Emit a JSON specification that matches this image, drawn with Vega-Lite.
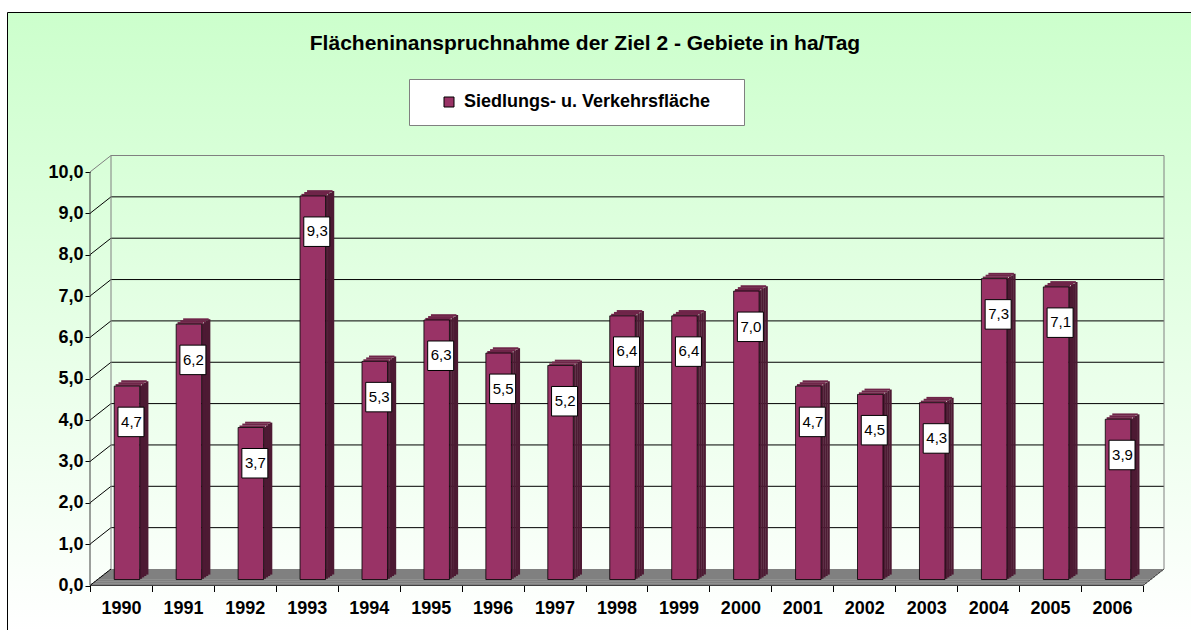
{
  "$schema": "https://vega.github.io/schema/vega-lite/v6.json",
  "width": 1185,
  "height": 619,
  "autosize": {"type": "none"},
  "padding": {"left": 7, "top": 12, "right": -1, "bottom": -1},
  "background": "#ffffff",
  "view": {
    "fill": {"gradient": "linear", "x1": 0, "y1": 0, "x2": 0, "y2": 1,
      "stops": [{"offset": 0, "color": "#CCFFCC"}, {"offset": 1, "color": "#FFFFFF"}]},
    "stroke": "#000000",
    "strokeWidth": 1
  },
  "config": {
    "locale": {"number": {"decimal": ",", "thousands": ".", "grouping": [3], "currency": ["", " €"]}},
    "font": "Liberation Sans"
  },
  "title": {
    "text": "Flächeninanspruchnahme der Ziel 2 - Gebiete in ha/Tag",
    "font": "Liberation Sans",
    "fontSize": 21,
    "fontWeight": "bold",
    "color": "#000000",
    "anchor": "middle",
    "frame": "group",
    "baseline": "alphabetic",
    "offset": -59,
    "dx": -14.5
  },
  "datasets": {
    "bars": [
      {"Jahr": "1990", "Wert": 4.7},
      {"Jahr": "1991", "Wert": 6.2},
      {"Jahr": "1992", "Wert": 3.7},
      {"Jahr": "1993", "Wert": 9.3},
      {"Jahr": "1994", "Wert": 5.3},
      {"Jahr": "1995", "Wert": 6.3},
      {"Jahr": "1996", "Wert": 5.5},
      {"Jahr": "1997", "Wert": 5.2},
      {"Jahr": "1998", "Wert": 6.4},
      {"Jahr": "1999", "Wert": 6.4},
      {"Jahr": "2000", "Wert": 7.0},
      {"Jahr": "2001", "Wert": 4.7},
      {"Jahr": "2002", "Wert": 4.5},
      {"Jahr": "2003", "Wert": 4.3},
      {"Jahr": "2004", "Wert": 7.3},
      {"Jahr": "2005", "Wert": 7.1},
      {"Jahr": "2006", "Wert": 3.9}
    ],
    "ticks": [
      {"t": 0}, {"t": 1}, {"t": 2}, {"t": 3}, {"t": 4}, {"t": 5},
      {"t": 6}, {"t": 7}, {"t": 8}, {"t": 9}, {"t": 10}
    ],
    "one": [{"k": 1}]
  },
  "layer": [
    {
      "data": {"name": "bars"},
      "mark": {"type": "bar", "width": 25.5, "xOffset": 6, "yOffset": -5, "y2Offset": -6, "stroke": "#000000", "strokeWidth": 0.8, "opacity": 0},
      "encoding": {
        "x": {"field": "Jahr", "type": "ordinal", "title": null,
          "scale": {"paddingInner": 0, "paddingOuter": 0, "range": [83, 1136]},
          "axis": {"orient": "bottom", "offset": -45.5, "domain": false, "grid": false, "tickBand": "extent",
            "tickSize": 6, "tickColor": "#000000", "tickWidth": 1, "labelAngle": 0, "labelPadding": 8,
            "labelFont": "Liberation Sans", "labelFontWeight": "bold", "labelFontSize": 18, "labelColor": "#000000", "title": null}},
        "y": {"field": "Wert", "type": "quantitative", "title": null,
          "scale": {"domain": [0, 10], "range": [573.5, 160], "nice": false, "zero": false},
          "axis": {"orient": "left", "offset": -83, "domain": false, "grid": false, "values": [0,1,2,3,4,5,6,7,8,9,10],
            "format": ".1f", "tickSize": 5, "tickColor": "#000000", "tickWidth": 1, "labelPadding": 2,
            "labelFont": "Liberation Sans", "labelFontWeight": "bold", "labelFontSize": 18, "labelColor": "#000000", "title": null}},
        "y2": {"datum": 0}
      }
    },
    {"data": {"name": "one"}, "mark": {"type": "rule", "stroke": "#808080", "strokeWidth": 2.4, "strokeCap": "butt", "xOffset": 1.3125, "x2Offset": 1.3125, "yOffset": -1.031},
      "encoding": {"x": {"datum": "1990", "bandPosition": 0}, "x2": {"datum": "2006", "bandPosition": 1}, "y": {"datum": 0}}},
    {"data": {"name": "one"}, "mark": {"type": "rule", "stroke": "#808080", "strokeWidth": 2.4, "strokeCap": "butt", "xOffset": 3.9375, "x2Offset": 3.9375, "yOffset": -3.094},
      "encoding": {"x": {"datum": "1990", "bandPosition": 0}, "x2": {"datum": "2006", "bandPosition": 1}, "y": {"datum": 0}}},
    {"data": {"name": "one"}, "mark": {"type": "rule", "stroke": "#808080", "strokeWidth": 2.4, "strokeCap": "butt", "xOffset": 6.5625, "x2Offset": 6.5625, "yOffset": -5.156},
      "encoding": {"x": {"datum": "1990", "bandPosition": 0}, "x2": {"datum": "2006", "bandPosition": 1}, "y": {"datum": 0}}},
    {"data": {"name": "one"}, "mark": {"type": "rule", "stroke": "#808080", "strokeWidth": 2.4, "strokeCap": "butt", "xOffset": 9.1875, "x2Offset": 9.1875, "yOffset": -7.219},
      "encoding": {"x": {"datum": "1990", "bandPosition": 0}, "x2": {"datum": "2006", "bandPosition": 1}, "y": {"datum": 0}}},
    {"data": {"name": "one"}, "mark": {"type": "rule", "stroke": "#808080", "strokeWidth": 2.4, "strokeCap": "butt", "xOffset": 11.8125, "x2Offset": 11.8125, "yOffset": -9.281},
      "encoding": {"x": {"datum": "1990", "bandPosition": 0}, "x2": {"datum": "2006", "bandPosition": 1}, "y": {"datum": 0}}},
    {"data": {"name": "one"}, "mark": {"type": "rule", "stroke": "#808080", "strokeWidth": 2.4, "strokeCap": "butt", "xOffset": 14.4375, "x2Offset": 14.4375, "yOffset": -11.344},
      "encoding": {"x": {"datum": "1990", "bandPosition": 0}, "x2": {"datum": "2006", "bandPosition": 1}, "y": {"datum": 0}}},
    {"data": {"name": "one"}, "mark": {"type": "rule", "stroke": "#808080", "strokeWidth": 2.4, "strokeCap": "butt", "xOffset": 17.0625, "x2Offset": 17.0625, "yOffset": -13.406},
      "encoding": {"x": {"datum": "1990", "bandPosition": 0}, "x2": {"datum": "2006", "bandPosition": 1}, "y": {"datum": 0}}},
    {"data": {"name": "one"}, "mark": {"type": "rule", "stroke": "#808080", "strokeWidth": 2.2, "strokeCap": "butt", "xOffset": 19.6875, "x2Offset": 19.6875, "yOffset": -15.469},
      "encoding": {"x": {"datum": "1990", "bandPosition": 0}, "x2": {"datum": "2006", "bandPosition": 1}, "y": {"datum": 0}}},
    {"data": {"name": "one"}, "mark": {"type": "rule", "stroke": "#404040", "strokeWidth": 1},
      "encoding": {"x": {"datum": "1990", "bandPosition": 0}, "x2": {"datum": "2006", "bandPosition": 1}, "y": {"datum": 0}}},
    {"data": {"name": "one"}, "mark": {"type": "rule", "stroke": "#404040", "strokeWidth": 1, "x2Offset": 21, "y2Offset": -16.5},
      "encoding": {"x": {"datum": "2006", "bandPosition": 1}, "x2": {"datum": "2006", "bandPosition": 1}, "y": {"datum": 0}, "y2": {"datum": 0}}},
    {"data": {"name": "ticks"}, "transform": [{"filter": "datum.t > 0"}],
      "mark": {"type": "rule", "strokeWidth": 1, "xOffset": 21, "x2Offset": 21, "yOffset": -16.5},
      "encoding": {"x": {"datum": "1990", "bandPosition": 0}, "x2": {"datum": "2006", "bandPosition": 1},
        "y": {"field": "t", "type": "quantitative", "title": null},
        "stroke": {"condition": {"test": "datum.t === 10", "value": "#808080"}, "value": "#000000"}}},
    {"data": {"name": "ticks"},
      "mark": {"type": "rule", "strokeWidth": 1, "x2Offset": 21, "y2Offset": -16.5},
      "encoding": {"x": {"datum": "1990", "bandPosition": 0}, "x2": {"datum": "1990", "bandPosition": 0},
        "y": {"field": "t", "type": "quantitative", "title": null}, "y2": {"field": "t"},
        "stroke": {"condition": {"test": "datum.t === 10", "value": "#808080"}, "value": "#000000"}}},
    {"data": {"name": "one"}, "mark": {"type": "rule", "stroke": "#808080", "strokeWidth": 1, "xOffset": 21, "yOffset": -16.5, "y2Offset": -16.5},
      "encoding": {"x": {"datum": "1990", "bandPosition": 0}, "y": {"datum": 0}, "y2": {"datum": 10}}},
    {"data": {"name": "one"}, "mark": {"type": "rule", "stroke": "#808080", "strokeWidth": 1, "xOffset": 21, "yOffset": -16.5, "y2Offset": -16.5},
      "encoding": {"x": {"datum": "2006", "bandPosition": 1}, "y": {"datum": 0}, "y2": {"datum": 10}}},
    {"data": {"name": "one"}, "mark": {"type": "rule", "stroke": "#404040", "strokeWidth": 1},
      "encoding": {"x": {"datum": "1990", "bandPosition": 0}, "y": {"datum": 0}, "y2": {"datum": 10}}},
    {"data": {"name": "bars"}, "mark": {"type": "bar", "width": 2.4, "xOffset": 19.95, "yOffset": -5.7, "y2Offset": -6.7, "fill": "#4D1A33"},
      "encoding": {"x": {"field": "Jahr", "type": "ordinal", "title": null}, "y": {"field": "Wert", "type": "quantitative", "title": null}, "y2": {"datum": 0}}},
    {"data": {"name": "bars"}, "mark": {"type": "bar", "width": 2.4, "xOffset": 22.05, "yOffset": -7.1, "y2Offset": -8.1, "fill": "#4D1A33"},
      "encoding": {"x": {"field": "Jahr", "type": "ordinal", "title": null}, "y": {"field": "Wert", "type": "quantitative", "title": null}, "y2": {"datum": 0}}},
    {"data": {"name": "bars"}, "mark": {"type": "bar", "width": 2.4, "xOffset": 24.15, "yOffset": -8.5, "y2Offset": -9.5, "fill": "#4D1A33"},
      "encoding": {"x": {"field": "Jahr", "type": "ordinal", "title": null}, "y": {"field": "Wert", "type": "quantitative", "title": null}, "y2": {"datum": 0}}},
    {"data": {"name": "bars"}, "mark": {"type": "bar", "width": 2.4, "xOffset": 26.25, "yOffset": -9.9, "y2Offset": -10.9, "fill": "#4D1A33"},
      "encoding": {"x": {"field": "Jahr", "type": "ordinal", "title": null}, "y": {"field": "Wert", "type": "quantitative", "title": null}, "y2": {"datum": 0}}},
    {"data": {"name": "bars"}, "mark": {"type": "bar", "width": 25.5, "xOffset": 7.4, "yOffset": -7.07, "y2Offset": -5, "fill": "#6F2549"},
      "encoding": {"x": {"field": "Jahr", "type": "ordinal", "title": null}, "y": {"field": "Wert", "type": "quantitative", "title": null}, "y2": {"field": "Wert"}}},
    {"data": {"name": "bars"}, "mark": {"type": "bar", "width": 25.5, "xOffset": 10.2, "yOffset": -8.94, "y2Offset": -6.87, "fill": "#6F2549"},
      "encoding": {"x": {"field": "Jahr", "type": "ordinal", "title": null}, "y": {"field": "Wert", "type": "quantitative", "title": null}, "y2": {"field": "Wert"}}},
    {"data": {"name": "bars"}, "mark": {"type": "bar", "width": 25.5, "xOffset": 13.0, "yOffset": -10.81, "y2Offset": -8.74, "fill": "#6F2549"},
      "encoding": {"x": {"field": "Jahr", "type": "ordinal", "title": null}, "y": {"field": "Wert", "type": "quantitative", "title": null}, "y2": {"field": "Wert"}}},
    {"data": {"name": "bars"},
      "mark": {"type": "bar", "width": 25.5, "xOffset": 6, "yOffset": -5, "y2Offset": -6, "stroke": "#000000", "strokeWidth": 0.8},
      "encoding": {
        "x": {"field": "Jahr", "type": "ordinal", "title": null},
        "y": {"field": "Wert", "type": "quantitative", "title": null},
        "y2": {"datum": 0},
        "color": {"datum": "Siedlungs- u. Verkehrsfläche", "type": "nominal",
          "scale": {"range": ["#993366"]},
          "legend": {"title": " ", "titleOrient": "right", "titlePadding": 20, "titleFontSize": 18,
            "orient": "none", "legendX": 402, "legendY": 67, "padding": 14,
            "fillColor": "#FFFFFF", "strokeColor": "#808080",
            "symbolType": "square", "symbolSize": 100, "symbolStrokeColor": "#000000", "symbolStrokeWidth": 1, "symbolFillColor": "#993366",
            "symbolOffset": 17, "labelOffset": 6, "labelLimit": 500,
            "labelFont": "Liberation Sans", "labelFontWeight": "bold", "labelFontSize": 18, "labelColor": "#000000"}}
      }
    },
    {"data": {"name": "bars"},
      "mark": {"type": "bar", "width": 26, "xOffset": 10, "yOffset": 16, "y2Offset": 45.5, "fill": "#FFFFFF", "stroke": "#000000", "strokeWidth": 1},
      "encoding": {"x": {"field": "Jahr", "type": "ordinal", "title": null}, "y": {"field": "Wert", "type": "quantitative", "title": null}, "y2": {"field": "Wert"}}},
    {"data": {"name": "bars"},
      "mark": {"type": "text", "xOffset": 10.5, "yOffset": 30.5, "baseline": "middle", "align": "center", "font": "Liberation Sans", "fontSize": 15, "color": "#000000"},
      "encoding": {"x": {"field": "Jahr", "type": "ordinal", "title": null}, "y": {"field": "Wert", "type": "quantitative", "title": null},
        "text": {"field": "Wert", "type": "quantitative", "format": ".1f"}}}
  ]
}
